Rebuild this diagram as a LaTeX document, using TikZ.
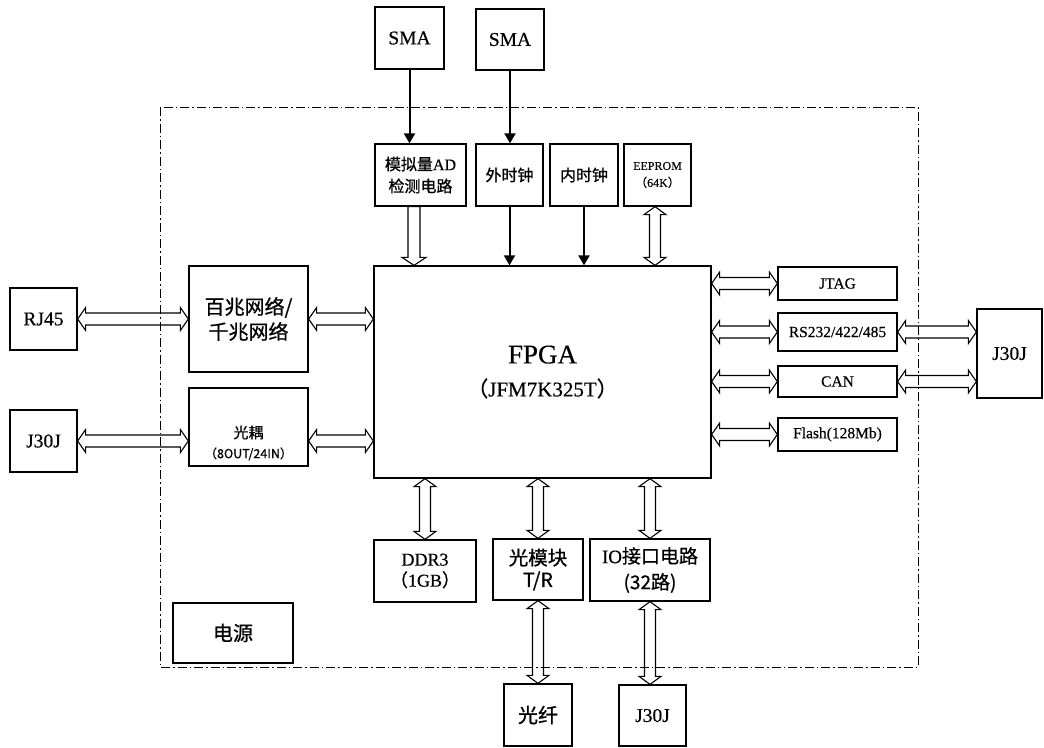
\documentclass[tikz,border=0pt]{standalone}
\usepackage{fontspec}
\setmainfont{Liberation Serif}[RawFeature={embolden=0.4}]
\newfontfamily\cjk{Noto Sans CJK SC}[RawFeature={embolden=0.8}]
\usetikzlibrary{arrows.meta,calc}
\tikzset{
  box/.style={draw, line width=1.3pt, inner sep=0pt, align=center},
  fat/.style={draw, line width=1.1pt, line join=miter},
  thinarrow/.style={line width=2pt, -{Triangle[length=10pt,width=11pt]}},
  frameline/.style={line width=1pt, dash pattern=on 9pt off 3pt on 1.5pt off 3pt},
  fA/.style={font=\fontsize{19.5}{22}\selectfont},
  fB/.style={font=\fontsize{16}{22}\selectfont},
  fC/.style={font=\fontsize{15.5}{18}\selectfont},
  fD/.style={font=\fontsize{20}{25}\selectfont},
}
% double-headed vertical fat arrow, from top point #1 to bottom point #2
\newcommand\dblV[2]{%
  \draw[fat] let \p1=(#1), \p2=(#2) in
    (\x1,\y1) -- (\x1+11pt,\y1-8pt) -- (\x1+5.5pt,\y1-8pt) -- (\x1+5.5pt,\y2+8pt)
    -- (\x1+11pt,\y2+8pt) -- (\x1,\y2) -- (\x1-11pt,\y2+8pt) -- (\x1-5.5pt,\y2+8pt)
    -- (\x1-5.5pt,\y1-8pt) -- (\x1-11pt,\y1-8pt) -- cycle;}
% single-headed vertical fat arrow, pointing down from #1 to #2
\newcommand\sglV[2]{%
  \draw[fat] let \p1=(#1), \p2=(#2) in
    (\x1-6pt,\y1) -- (\x1+6pt,\y1) -- (\x1+6pt,\y2+8pt) -- (\x1+12pt,\y2+8pt)
    -- (\x1,\y2) -- (\x1-12pt,\y2+8pt) -- (\x1-6pt,\y2+8pt) -- cycle;}
% double-headed horizontal fat arrow, from left point #1 to right point #2
\newcommand\dblH[2]{%
  \draw[fat] let \p1=(#1), \p2=(#2) in
    (\x1,\y1) -- (\x1+8pt,\y1+11.5pt) -- (\x1+8pt,\y1+6pt) -- (\x2-8pt,\y1+6pt)
    -- (\x2-8pt,\y1+11.5pt) -- (\x2,\y1) -- (\x2-8pt,\y1-11.5pt) -- (\x2-8pt,\y1-6pt)
    -- (\x1+8pt,\y1-6pt) -- (\x1+8pt,\y1-11.5pt) -- cycle;}
\begin{document}
\begin{tikzpicture}[x=1pt,y=1pt]
\useasboundingbox (0,0) rectangle (1044,-747);
\fill[white] (0,0) rectangle (1044,-747);

% dash-dot frame
\draw[frameline] (160,-107) rectangle (918,-667);

% top
\node[box,fA,minimum width=69,minimum height=62] (sma1) at (409.5,-38) {SMA};
\node[box,fA,minimum width=68,minimum height=61] (sma2) at (510,-39.5) {SMA};
\node[box,fB,minimum width=91,minimum height=62] (ad) at (420.5,-175) {{\cjk 模拟量}AD\\{\cjk 检测电路}};
\node[box,fB,minimum width=67,minimum height=62] (wsz) at (509.5,-175) {\cjk 外时钟};
\node[box,fB,minimum width=68,minimum height=62] (nsz) at (584,-175) {\cjk 内时钟};
\node[box,font=\fontsize{12}{17}\selectfont,minimum width=67,minimum height=62] (eeprom) at (657.5,-175) {EEPROM\\{\cjk （}64K{\cjk ）}};

% FPGA
\node[box,font=\fontsize{21}{33}\selectfont,minimum width=337,minimum height=212] (fpga) at (542.5,-372)
  {{\fontsize{27}{33}\selectfont FPGA}\\{\cjk （}JFM7K325T{\cjk ）}};

% left
\node[box,fA,minimum width=67,minimum height=62] (rj45) at (43.5,-319) {RJ45};
\node[box,fD,minimum width=119,minimum height=106] (net) at (248.5,-319) {\cjk 百兆网络/\\\cjk 千兆网络};
\node[box,fA,minimum width=67,minimum height=62] (j30l) at (43.5,-441) {J30J};
\node[box,minimum width=119,minimum height=78] (oc) at (248.5,-427) {};
\node[align=center,inner sep=0pt,font=\cjk\fontsize{15}{20}\selectfont] (octext) at ([yshift=-16pt]oc.center)
  {光耦\\{\fontsize{12.5}{20}\selectfont （8OUT/24IN）}};

% right
\node[box,fC,minimum width=119,minimum height=33] (jtag) at (837.5,-283.5) {JTAG};
\node[box,fC,minimum width=119,minimum height=38] (rs) at (837.5,-332) {RS232/422/485};
\node[box,fC,minimum width=119,minimum height=31] (can) at (837.5,-381.5) {CAN};
\node[box,fC,minimum width=119,minimum height=33] (flash) at (837.5,-434.5) {Flash(128Mb)};
\node[box,fA,minimum width=65,minimum height=89] (j30r) at (1009.5,-353.5) {J30J};

% bottom
\node[box,font=\fontsize{18}{21}\selectfont,minimum width=102,minimum height=62] (ddr) at (425,-571) {DDR3\\{\cjk （}1GB{\cjk ）}};
\node[box,fA,minimum width=90,minimum height=61] (gmk) at (538,-569.5) {\cjk 光模块\\\cjk T/R};
\node[box,font=\fontsize{19}{26}\selectfont,minimum width=120,minimum height=62] (io) at (650,-570) {IO{\cjk 接口电路}\\{\cjk (32路)}};
\node[box,fD,minimum width=68,minimum height=62] (gx) at (538,-715) {\cjk 光纤};
\node[box,fA,minimum width=67,minimum height=61] (j30b) at (652.5,-715.5) {J30J};
\node[box,fD,minimum width=120,minimum height=60] (power) at (233,-633) {\cjk 电源};

% thin arrows
\draw[thinarrow] (sma1.south) -- (sma1.south |- ad.north);
\draw[thinarrow] (sma2.south) -- (sma2.south |- wsz.north);
\draw[thinarrow] (wsz.south) -- (wsz.south |- fpga.north);
\draw[thinarrow] (nsz.south) -- (nsz.south |- fpga.north);

% fat arrows, top
\coordinate (adout) at ([xshift=-6.5pt]ad.south);
\sglV{adout}{adout |- fpga.north}
\coordinate (eeout) at ([xshift=-2.5pt]eeprom.south);
\dblV{eeout}{eeout |- fpga.north}

% fat arrows, left
\dblH{rj45.east}{rj45.east -| net.west}
\dblH{net.east}{net.east -| fpga.west}
\dblH{j30l.east}{j30l.east -| oc.west}
\dblH{oc.east |- j30l.east}{j30l.east -| fpga.west}

% fat arrows, right
\dblH{fpga.east |- jtag.west}{jtag.west}
\dblH{fpga.east |- rs.west}{rs.west}
\dblH{fpga.east |- can.west}{can.west}
\dblH{fpga.east |- flash.west}{flash.west}
\dblH{rs.east}{rs.east -| j30r.west}
\dblH{can.east}{can.east -| j30r.west}

% fat arrows, bottom
\dblV{fpga.south -| ddr.north}{ddr.north}
\dblV{fpga.south -| gmk.north}{gmk.north}
\dblV{fpga.south -| io.north}{io.north}
\dblV{gmk.south}{gmk.south |- gx.north}
\dblV{io.south}{io.south |- j30b.north}
\end{tikzpicture}
\end{document}
